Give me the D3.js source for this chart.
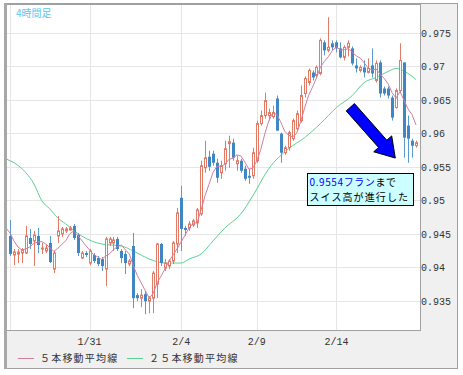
<!DOCTYPE html>
<html>
<head>
<meta charset="utf-8">
<script src="https://cdn.jsdelivr.net/npm/d3@7"></script>
<style>
  body { margin: 0; background: #fff; }
  text { font-family: "Liberation Mono", "DejaVu Sans Mono", monospace; }
  .jp { font-family: "Noto Sans CJK JP", sans-serif; }
</style>
</head>
<body>
<div id="chart"></div>
<script>
// 4時間足 OHLC
var opens = [
  0.94465, 0.9418, 0.94195, 0.9421, 0.9421, 0.94435, 0.9439, 0.94465, 0.9427, 0.9424,
  0.9436, 0.9397, 0.94465, 0.94495, 0.9454, 0.94555, 0.94615, 0.9448, 0.94135, 0.9421,
  0.9406, 0.9418, 0.94135, 0.9412, 0.9397, 0.9436, 0.9436, 0.9442, 0.9424, 0.94195,
  0.94045, 0.94315, 0.9358, 0.93535, 0.93595, 0.9349, 0.93535, 0.93745, 0.94345, 0.93985,
  0.94015, 0.9409, 0.94345, 0.95035, 0.94585, 0.94585, 0.9463, 0.9466, 0.94795, 0.95485,
  0.9565, 0.95695, 0.9556, 0.9541, 0.95545, 0.95845, 0.9586, 0.95545, 0.9559, 0.9547,
  0.95365, 0.95365, 0.9559, 0.96145, 0.96265, 0.96265, 0.9625, 0.9652, 0.95995, 0.9571,
  0.95785, 0.9592, 0.9607, 0.9619, 0.96595, 0.9676, 0.9691, 0.96865, 0.96895, 0.9736,
  0.9724, 0.97345, 0.9736, 0.9727, 0.97135, 0.97285, 0.9727, 0.97015, 0.9694, 0.96985,
  0.9691, 0.97015, 0.9679, 0.9706, 0.9667, 0.9667, 0.96535, 0.96385, 0.9664, 0.9706,
  0.96115, 0.9589, 0.95815
];
var highs = [
  0.94705, 0.9427, 0.9427, 0.94285, 0.94615, 0.9457, 0.9454, 0.94585, 0.9436, 0.94345,
  0.94465, 0.9424, 0.94765, 0.946, 0.946, 0.94615, 0.94645, 0.9451, 0.9424, 0.9424,
  0.9427, 0.9421, 0.94165, 0.9415, 0.9445, 0.9445, 0.9445, 0.9445, 0.9427, 0.9424,
  0.9412, 0.9451, 0.9361, 0.9367, 0.9364, 0.93565, 0.9394, 0.9436, 0.9436, 0.9412,
  0.9412, 0.9439, 0.94885, 0.95215, 0.94615, 0.9469, 0.9472, 0.94885, 0.9559, 0.9589,
  0.9574, 0.9574, 0.9562, 0.9559, 0.9589, 0.95965, 0.9592, 0.95665, 0.9562, 0.95515,
  0.9547, 0.95785, 0.9619, 0.9634, 0.9661, 0.9637, 0.96415, 0.96565, 0.9601, 0.95815,
  0.9604, 0.9622, 0.9634, 0.96715, 0.9685, 0.9697, 0.9694, 0.97015, 0.9742, 0.9739,
  0.97735, 0.9739, 0.9739, 0.9736, 0.97315, 0.9739, 0.973, 0.9712, 0.97015, 0.9709,
  0.9712, 0.9727, 0.9709, 0.9709, 0.967, 0.967, 0.96565, 0.9667, 0.97345, 0.9706,
  0.96265, 0.9592, 0.9589
];
var lows = [
  0.94165, 0.9403, 0.9406, 0.9406, 0.94195, 0.9427, 0.94015, 0.9421, 0.94195, 0.9421,
  0.9406, 0.9391, 0.9436, 0.9445, 0.9451, 0.9454, 0.94405, 0.94165, 0.9412, 0.9415,
  0.9403, 0.9406, 0.94015, 0.9394, 0.93715, 0.94315, 0.9424, 0.9424, 0.9406, 0.93895,
  0.94015, 0.93385, 0.9349, 0.934, 0.93295, 0.9331, 0.9331, 0.93535, 0.94015, 0.9394,
  0.9397, 0.94045, 0.9421, 0.9424, 0.94465, 0.9454, 0.946, 0.94585, 0.94765, 0.9541,
  0.9544, 0.95515, 0.9526, 0.9532, 0.9544, 0.95485, 0.9559, 0.9544, 0.9541, 0.9529,
  0.95245, 0.9532, 0.9556, 0.96115, 0.9622, 0.9619, 0.9622, 0.9604, 0.9556, 0.9568,
  0.9574, 0.9589, 0.9604, 0.9616, 0.96535, 0.96715, 0.9679, 0.9682, 0.96865, 0.97165,
  0.9721, 0.9724, 0.9721, 0.9712, 0.9709, 0.9715, 0.97015, 0.9691, 0.9691, 0.96835,
  0.96895, 0.96835, 0.9676, 0.96535, 0.96565, 0.9652, 0.9619, 0.9637, 0.9661, 0.95635,
  0.9556, 0.95635, 0.95785
];
var closes = [
  0.94195, 0.94225, 0.94225, 0.94255, 0.94465, 0.94345, 0.9448, 0.9433, 0.94285, 0.94285,
  0.94075, 0.9421, 0.9454, 0.9457, 0.9457, 0.94585, 0.94435, 0.9421, 0.9421, 0.9418,
  0.9424, 0.9409, 0.94045, 0.94015, 0.9442, 0.9442, 0.94405, 0.9427, 0.94135, 0.9406,
  0.9409, 0.93535, 0.93535, 0.9358, 0.9349, 0.93535, 0.9391, 0.94345, 0.9406, 0.9406,
  0.9409, 0.9436, 0.9481, 0.9457, 0.94555, 0.94645, 0.9469, 0.94855, 0.95515, 0.95635,
  0.955, 0.9556, 0.95335, 0.95515, 0.9577, 0.95875, 0.95635, 0.9559, 0.9544, 0.9532,
  0.95335, 0.9571, 0.96145, 0.96265, 0.9649, 0.9631, 0.9631, 0.9604, 0.9571, 0.95785,
  0.9601, 0.9619, 0.96295, 0.96565, 0.9682, 0.9694, 0.96835, 0.96985, 0.9739, 0.9724,
  0.97285, 0.97285, 0.9727, 0.97135, 0.97285, 0.97345, 0.97045, 0.9697, 0.96985, 0.9691,
  0.9697, 0.96895, 0.97045, 0.96595, 0.96595, 0.96565, 0.96235, 0.9664, 0.9709, 0.95935,
  0.9592, 0.95815, 0.9586
];
// closes of the bars just left of the window (needed for the 5-bar average)
var prevCloses = [0.9457, 0.94825, 0.94675, 0.9448, 0.94375];

// 25本移動平均線, read at a few bars
var ma25Index = [-1, 0, 1, 4, 6, 8, 10, 12, 14, 18, 23, 28, 31, 35, 39, 43, 45, 48, 51, 54,
                 58, 61, 65, 70, 74, 78, 82, 86, 89, 92, 95, 97, 100, 102];
var ma25Value = [0.9562, 0.9559, 0.9556, 0.9541, 0.95245, 0.9499, 0.9487, 0.94735, 0.94645, 0.94465,
                 0.94345, 0.94315, 0.9424, 0.9412, 0.9406, 0.9406, 0.9412, 0.94195, 0.9439, 0.94585,
                 0.94795, 0.95065, 0.9547, 0.9577, 0.95935, 0.96145, 0.96385, 0.96565, 0.9676, 0.96835,
                 0.96925, 0.9697, 0.96895, 0.96805];

var tickIndex = [0, 20, 43, 62, 82];
var tickLabels = ["", "1/31", "2/4", "2/9", "2/14"];
var yTicks = [0.935, 0.94, 0.945, 0.95, 0.955, 0.96, 0.965, 0.97, 0.975];
var yTickLabels = ["0.935", "0.94", "0.945", "0.95", "0.955", "0.96", "0.965", "0.97", "0.975"];

var legendNames = ["５本移動平均線", "２５本移動平均線"];
var noteLine1 = ["0.9554フラン", "まで"];
var noteLine2 = "スイス高が進行した";

var width = 463, height = 375;
var plotL = 7, plotR = 420, plotT = 5, plotB = 330;

var svg = d3.select("#chart").append("svg")
    .attr("width", width)
    .attr("height", height);

var x = d3.scaleLinear().domain([0, closes.length - 1]).range([10, 416]);
var y = d3.scaleLinear().domain([0.935, 0.975]).range([300.5, 33]);

// frame
svg.append("rect")
    .attr("x", 4.5).attr("y", 3.5)
    .attr("width", 453).attr("height", 365)
    .attr("fill", "#f0f0f0")
    .attr("stroke", "#a0a0a0");
svg.append("rect")
    .attr("x", plotL - 0.5).attr("y", plotT - 0.5)
    .attr("width", plotR - plotL + 1).attr("height", plotB - plotT + 1)
    .attr("fill", "#fff")
    .attr("stroke", "#a0a0a0");
svg.append("rect")
    .attr("x", 4).attr("y", 3)
    .attr("width", 3).attr("height", 366)
    .attr("fill", "#a8a8a8");

svg.append("defs").append("clipPath").attr("id", "plot")
  .append("rect")
    .attr("x", plotL).attr("y", plotT)
    .attr("width", plotR - plotL).attr("height", plotB - plotT);

var plot = svg.append("g").attr("clip-path", "url(#plot)");

// grid
plot.selectAll("line.hgrid")
  .data(yTicks)
  .enter().append("line")
    .attr("class", "hgrid")
    .attr("x1", plotL).attr("x2", plotR)
    .attr("y1", function(d) { return Math.round(y(d)) + 0.5; })
    .attr("y2", function(d) { return Math.round(y(d)) + 0.5; })
    .attr("stroke", "#e6e6e6");

plot.selectAll("line.vgrid")
  .data(tickIndex)
  .enter().append("line")
    .attr("class", "vgrid")
    .attr("y1", plotT).attr("y2", plotB)
    .attr("x1", function(d) { return Math.round(x(d)) + 0.5; })
    .attr("x2", function(d) { return Math.round(x(d)) + 0.5; })
    .attr("stroke", "#e6e6e6");

// moving averages
var ma5 = [];
var all = prevCloses.concat(closes);
for (var i = 4; i < all.length; i++) {
  ma5.push({i: i - prevCloses.length, v: d3.mean(all.slice(i - 4, i + 1))});
}

var ma25 = ma25Index.map(function(d, k) { return {i: d, v: ma25Value[k]}; });

var line = d3.line()
    .x(function(d) { return x(d.i); })
    .y(function(d) { return y(d.v); });

plot.append("path")
    .datum(ma25)
    .attr("fill", "none")
    .attr("stroke", "#5fcf95")
    .attr("stroke-width", 1)
    .attr("d", line.curve(d3.curveMonotoneX));

// candles
var up = "#e27a66", down = "#3f86c4";
var bars = d3.range(closes.length);

var candle = plot.selectAll("g.candle")
  .data(bars)
  .enter().append("g")
    .attr("class", "candle");

candle.append("line")
    .attr("x1", function(i) { return Math.round(x(i)) + 0.5; })
    .attr("x2", function(i) { return Math.round(x(i)) + 0.5; })
    .attr("y1", function(i) { return y(highs[i]); })
    .attr("y2", function(i) { return y(lows[i]); })
    .attr("stroke", function(i) { return closes[i] >= opens[i] ? up : "#5a9ad0"; });

candle.append("rect")
    .attr("x", function(i) { return closes[i] >= opens[i] ? Math.round(x(i)) - 0.5 : Math.round(x(i)) - 1; })
    .attr("y", function(i) { return y(Math.max(opens[i], closes[i])); })
    .attr("width", function(i) { return closes[i] >= opens[i] ? 2 : 3; })
    .attr("height", function(i) { return Math.max(1, Math.abs(y(opens[i]) - y(closes[i]))); })
    .attr("fill", function(i) { return closes[i] >= opens[i] ? "#fff" : down; })
    .attr("stroke", function(i) { return closes[i] >= opens[i] ? up : "none"; })
    .attr("stroke-width", 1);

plot.append("path")
    .datum(ma5)
    .attr("fill", "none")
    .attr("stroke", "#cf7ea0")
    .attr("stroke-width", 1)
    .attr("d", line.curve(d3.curveLinear));

// title
svg.append("text")
    .attr("class", "jp")
    .attr("x", 16).attr("y", 17)
    .attr("font-size", "10px")
    .attr("fill", "#5cc6f2")
    .text("4時間足");

// y axis labels
svg.selectAll("text.ylab")
  .data(yTicks)
  .enter().append("text")
    .attr("class", "ylab")
    .attr("x", 421)
    .attr("y", function(d) { return y(d) + 4; })
    .attr("font-size", "10px")
    .attr("fill", "#333")
    .text(function(d, k) { return yTickLabels[k]; });

// x axis labels
svg.selectAll("text.xlab")
  .data(tickIndex)
  .enter().append("text")
    .attr("class", "xlab")
    .attr("x", function(d) { return x(d); })
    .attr("y", 345)
    .attr("text-anchor", "middle")
    .attr("font-size", "10px")
    .attr("fill", "#333")
    .text(function(d, k) { return tickLabels[k]; });

// legend
var legendX = [18, 127];
var legendColor = ["#cf7ea0", "#5fcf95"];
legendNames.forEach(function(name, k) {
  svg.append("line")
      .attr("x1", legendX[k]).attr("x2", legendX[k] + 16)
      .attr("y1", 358.5).attr("y2", 358.5)
      .attr("stroke", legendColor[k]);
  svg.append("text")
      .attr("class", "jp")
      .attr("x", legendX[k] + 22).attr("y", 362)
      .attr("font-size", "10px")
      .attr("letter-spacing", "1.2px")
      .attr("fill", "#333")
      .text(name);
});

// arrow
var tail = [x(85.5), y(0.9639)], tip = [x(96.8), y(0.9563)];
var dx = tip[0] - tail[0], dy = tip[1] - tail[1], len = Math.sqrt(dx * dx + dy * dy);
var ux = dx / len, uy = dy / len, px = -uy, py = ux;
var shaft = 5.5, head = 12, headLen = 19;
var neck = [tip[0] - ux * headLen, tip[1] - uy * headLen];
var pts = [
  [tail[0] + px * shaft, tail[1] + py * shaft],
  [neck[0] + px * shaft, neck[1] + py * shaft],
  [neck[0] + px * head, neck[1] + py * head],
  tip,
  [neck[0] - px * head, neck[1] - py * head],
  [neck[0] - px * shaft, neck[1] - py * shaft],
  [tail[0] - px * shaft, tail[1] - py * shaft]
];
svg.append("polygon")
    .attr("points", pts.map(function(p) { return p.join(","); }).join(" "))
    .attr("fill", "#0000ff")
    .attr("stroke", "#000")
    .attr("stroke-width", 1);

// note box
var bx = 307.5, by = 173.5;
svg.append("rect")
    .attr("x", bx).attr("y", by)
    .attr("width", 106).attr("height", 32)
    .attr("fill", "#ccffff")
    .attr("stroke", "#000");
var t1 = svg.append("text")
    .attr("class", "jp")
    .attr("x", bx + 2).attr("y", by + 12.5)
    .attr("font-size", "10px")
    .attr("letter-spacing", "0.6px");
t1.append("tspan").attr("fill", "#0000ff").text(noteLine1[0]);
t1.append("tspan").attr("fill", "#000").text(noteLine1[1]);
svg.append("text")
    .attr("class", "jp")
    .attr("x", bx + 2).attr("y", by + 27.5)
    .attr("font-size", "10px")
    .attr("letter-spacing", "1.1px")
    .attr("fill", "#000")
    .text(noteLine2);
</script>
</body>
</html>
